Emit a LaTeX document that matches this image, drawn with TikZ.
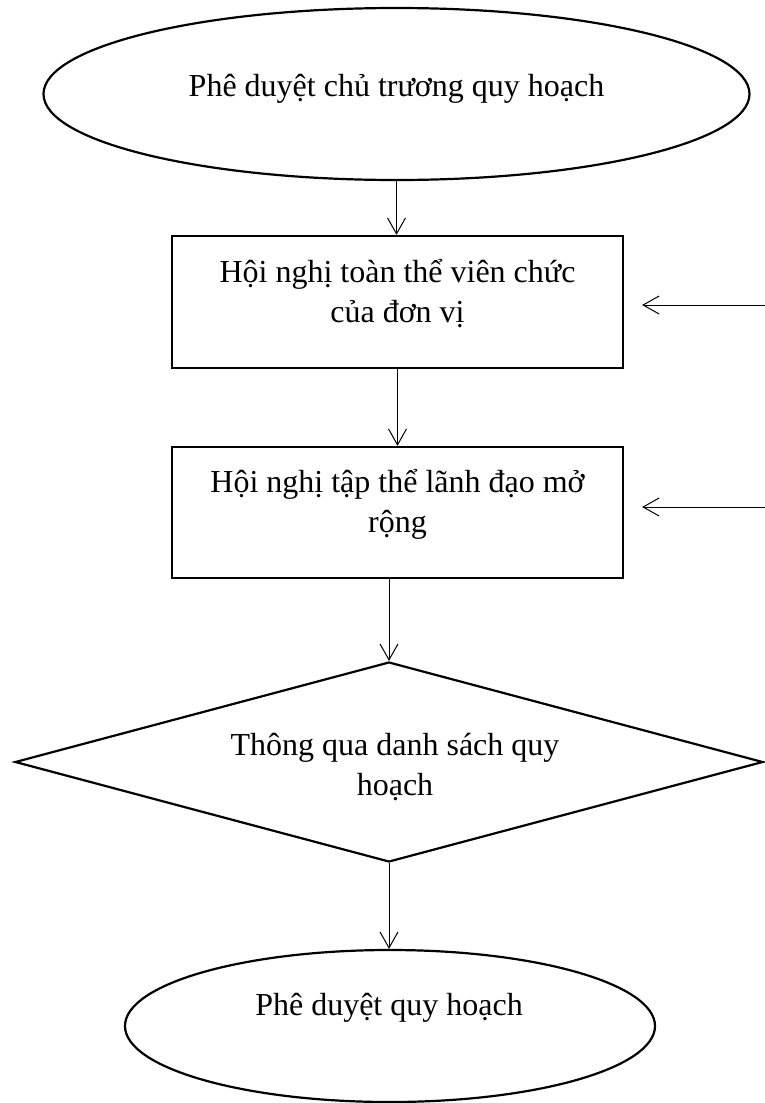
\documentclass[tikz,border=0pt]{standalone}
\usepackage{fontspec}
\setmainfont{Liberation Serif}
\usetikzlibrary{shapes.geometric,arrows.meta}
\begin{document}
\begin{tikzpicture}[x=1pt,y=-1pt,
  outline/.style={draw=black,line width=2.2pt,inner sep=0pt},
  term/.style={outline,ellipse},
  proc/.style={outline,rectangle},
  decide/.style={outline,diamond},
  lbl/.style={font=\fontsize{32}{40}\selectfont,inner sep=0pt,anchor=base},
  flow/.style={draw=black,line width=1pt,-{Straight Barb[length=16pt,width=18pt]}}
]
\useasboundingbox (0,0) rectangle (765,1103);

% shapes
\node[term,minimum width=706pt,minimum height=172pt] (start) at (396.5,94) {};
\node[proc,minimum width=451pt,minimum height=132pt] (meetAll) at (397.5,302) {};
\node[proc,minimum width=451pt,minimum height=131pt] (meetLead) at (397.5,512.5) {};
\node[decide,minimum width=748pt,minimum height=200pt] (approve) at (389,762) {};
\node[term,minimum width=530pt,minimum height=152pt] (final) at (390,1026) {};

% labels
\node[lbl] (startA) at (396.5,96) {Phê duyệt chủ trương quy hoạch};
\node[lbl] (meetAllA) at (397.5,282) {Hội nghị toàn thể viên chức};
\node[lbl] (meetAllB) at (397.5,322) {của đơn vị};
\node[lbl] (meetLeadA) at (397.5,492) {Hội nghị tập thể lãnh đạo mở};
\node[lbl] (meetLeadB) at (397.5,532) {rộng};
\node[lbl] (approveA) at (395,755) {Thông qua danh sách quy};
\node[lbl] (approveB) at (395,795) {hoạch};
\node[lbl] (finalA) at (389,1015) {Phê duyệt quy hoạch};

% main flow
\draw[flow] (start.south) -- (start.south |- meetAll.north);
\draw[flow] (meetAll.south) -- (meetAll.south |- meetLead.north);
\draw[flow] (meetLead.south -| approve.north) -- (approve.north);
\draw[flow] (approve.south) -- (approve.south |- final.north);

% incoming arrows from the right edge
\coordinate (feedA) at (765,305);
\coordinate (feedB) at (765,507);
\draw[flow,shorten >=18pt] (feedA) -- (feedA -| meetAll.east);
\draw[flow,shorten >=18pt] (feedB) -- (feedB -| meetLead.east);
\end{tikzpicture}
\end{document}
